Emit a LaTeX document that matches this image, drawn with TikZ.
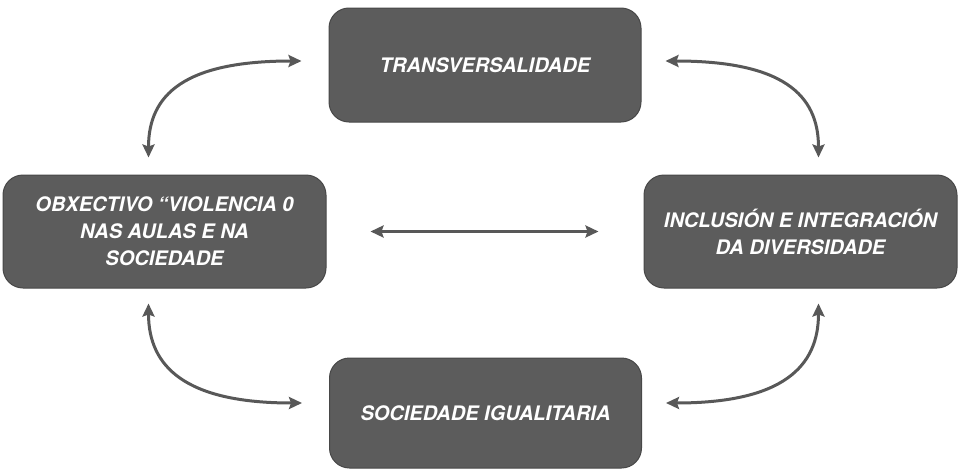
\documentclass[tikz,border=0pt]{standalone}
\usepackage{fontspec}
\setmainfont{TeX Gyre Heros}
\usetikzlibrary{arrows.meta,calc}
\definecolor{boxgray}{RGB}{92,92,92}
\definecolor{boxedge}{RGB}{72,72,72}
\definecolor{arrgray}{RGB}{88,88,88}
\tikzset{
  box/.style={draw=boxedge, line width=1pt, fill=boxgray, rounded corners=20pt,
    text=white, font=\fontsize{20}{27}\selectfont\bfseries\itshape, align=center, inner sep=0pt},
  arr/.style={draw=arrgray, line width=3pt, {Stealth[length=13pt,width=12pt,inset=2pt]}-{Stealth[length=13pt,width=12pt,inset=2pt]}}
}
\begin{document}
\begin{tikzpicture}[x=1pt,y=-1pt]
\useasboundingbox (0,0) rectangle (959,471);
\node[box, minimum width=312pt, minimum height=114pt] (T) at (485,65) {TRANSVERSALIDADE};
\node[box, minimum width=323pt, minimum height=113pt] (L) at (164.5,231.5) {OBXECTIVO “VIOLENCIA 0\\NAS AULAS E NA\\SOCIEDADE};
\node[box, minimum width=313pt, minimum height=113pt] (R) at (800.5,231.5) {INCLUSIÓN E INTEGRACIÓN\\DA DIVERSIDADE};
\node[box, minimum width=312pt, minimum height=110pt] (B) at (485.5,413) {SOCIEDADE IGUALITARIA};
% arcs
\draw[arr] ($(L.north)+(-16,-17)$) .. controls +(0,-63) and +(-117,0) .. ($(T.west)+(-27,-4)$);
\draw[arr] ($(T.east)+(24,-4)$) .. controls +(117,0) and +(0,-63) .. ($(R.north)+(18,-17)$);
\draw[arr] ($(L.south)+(-16,15)$) .. controls +(0,63) and +(-117,0) .. ($(B.west)+(-27,-10)$);
\draw[arr] ($(B.east)+(24,-10)$) .. controls +(117,0) and +(0,63) .. ($(R.south)+(18,15)$);
% middle
\draw[arr] ($(L.east)+(44,0)$) -- ($(R.west)+(-45,0)$);
\end{tikzpicture}
\end{document}
